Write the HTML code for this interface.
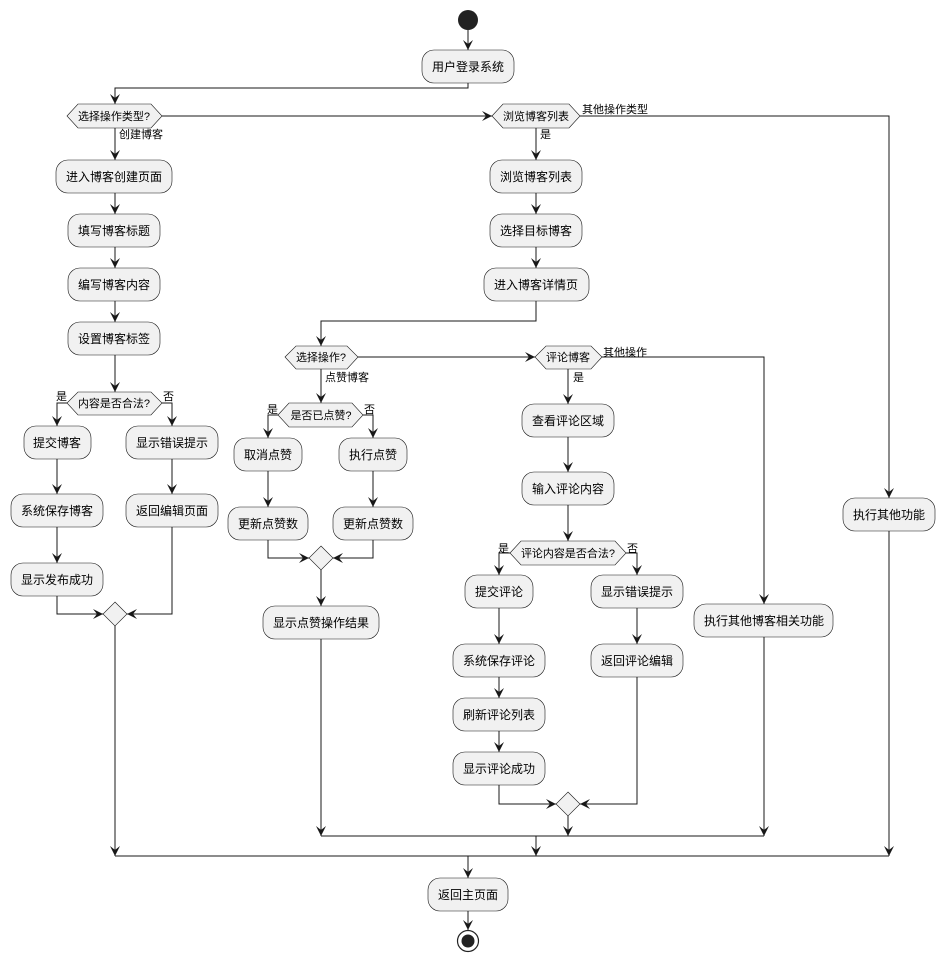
<!DOCTYPE html>
<html><head><meta charset="utf-8"><style>
html,body{margin:0;padding:0;background:#fff;}
svg text{font-family:"Liberation Sans","Noto Sans CJK SC",sans-serif;fill:#000;}
.b{fill:#F1F1F1;stroke:#181818;stroke-width:0.6;}
.l{stroke:#181818;stroke-width:1;fill:none;}
.a{fill:#181818;}
.t{font-size:12px;text-anchor:middle;}
.d{font-size:11px;text-anchor:middle;}
.s{font-size:11px;}
</style></head><body>
<svg width="945" height="962" viewBox="0 0 945 962" xmlns="http://www.w3.org/2000/svg">
<!-- lines -->
<g class="l">
<polyline points="468,30 468,50"/>
<polyline points="468,83 468,88 115,88 115,104"/>
<polyline points="162,116 492,116"/>
<polyline points="580,116 889,116 889,498"/>
<polyline points="115,128 115,160"/>
<polyline points="115,193 115,214"/>
<polyline points="115,247 115,268"/>
<polyline points="115,301 115,322"/>
<polyline points="115,355 115,392"/>
<polyline points="67,403 57,403 57,426"/>
<polyline points="162,403 172,403 172,426"/>
<polyline points="57,459 57,494"/>
<polyline points="57,527 57,563"/>
<polyline points="172,459 172,494"/>
<polyline points="57,596 57,614 103,614"/>
<polyline points="172,527 172,614 127,614"/>
<polyline points="115,626 115,856"/>
<polyline points="536,128 536,160"/>
<polyline points="536,193 536,214"/>
<polyline points="536,247 536,268"/>
<polyline points="536,301 536,321 321,321 321,346"/>
<polyline points="358,357 535,357"/>
<polyline points="602,357 764,357 764,604"/>
<polyline points="764,637 764,836"/>
<polyline points="321,369 321,403"/>
<polyline points="278,415 268,415 268,438"/>
<polyline points="363,415 373,415 373,438"/>
<polyline points="268,471 268,507"/>
<polyline points="373,471 373,507"/>
<polyline points="268,540 268,558 309,558"/>
<polyline points="373,540 373,558 333,558"/>
<polyline points="321,570 321,606"/>
<polyline points="321,639 321,836"/>
<polyline points="568,369 568,404"/>
<polyline points="568,437 568,472"/>
<polyline points="568,505 568,541"/>
<polyline points="510,553 499,553 499,575"/>
<polyline points="626,553 637,553 637,575"/>
<polyline points="499,608 499,644"/>
<polyline points="499,677 499,698"/>
<polyline points="499,731 499,752"/>
<polyline points="637,608 637,644"/>
<polyline points="499,785 499,804 556,804"/>
<polyline points="637,677 637,804 580,804"/>
<polyline points="568,816 568,836"/>
<polyline points="321,836 764,836"/>
<polyline points="536,836 536,856"/>
<polyline points="889,531 889,856"/>
<polyline points="115,856 889,856"/>
<polyline points="468,856 468,878"/>
<polyline points="468,911 468,930"/>
</g>
<!-- arrows down -->
<g class="a">
<polygon points="468,50 463,40 468,44 473,40"/>
<polygon points="115,104 110,94 115,98 120,94"/>
<polygon points="115,160 110,150 115,154 120,150"/>
<polygon points="115,214 110,204 115,208 120,204"/>
<polygon points="115,268 110,258 115,262 120,258"/>
<polygon points="115,322 110,312 115,316 120,312"/>
<polygon points="115,392 110,382 115,386 120,382"/>
<polygon points="57,426 52,416 57,420 62,416"/>
<polygon points="172,426 167,416 172,420 177,416"/>
<polygon points="57,494 52,484 57,488 62,484"/>
<polygon points="57,563 52,553 57,557 62,553"/>
<polygon points="172,494 167,484 172,488 177,484"/>
<polygon points="536,160 531,150 536,154 541,150"/>
<polygon points="536,214 531,204 536,208 541,204"/>
<polygon points="536,268 531,258 536,262 541,258"/>
<polygon points="321,346 316,336 321,340 326,336"/>
<polygon points="321,403 316,393 321,397 326,393"/>
<polygon points="268,438 263,428 268,432 273,428"/>
<polygon points="373,438 368,428 373,432 378,428"/>
<polygon points="268,507 263,497 268,501 273,497"/>
<polygon points="373,507 368,497 373,501 378,497"/>
<polygon points="321,606 316,596 321,600 326,596"/>
<polygon points="321,836 316,826 321,830 326,826"/>
<polygon points="568,404 563,394 568,398 573,394"/>
<polygon points="568,472 563,462 568,466 573,462"/>
<polygon points="568,541 563,531 568,535 573,531"/>
<polygon points="499,575 494,565 499,569 504,565"/>
<polygon points="637,575 632,565 637,569 642,565"/>
<polygon points="499,644 494,634 499,638 504,634"/>
<polygon points="499,698 494,688 499,692 504,688"/>
<polygon points="499,752 494,742 499,746 504,742"/>
<polygon points="637,644 632,634 637,638 642,634"/>
<polygon points="568,836 563,826 568,830 573,826"/>
<polygon points="764,604 759,594 764,598 769,594"/>
<polygon points="764,836 759,826 764,830 769,826"/>
<polygon points="889,498 884,488 889,492 894,488"/>
<polygon points="889,856 884,846 889,850 894,846"/>
<polygon points="115,856 110,846 115,850 120,846"/>
<polygon points="536,856 531,846 536,850 541,846"/>
<polygon points="468,878 463,868 468,872 473,868"/>
<polygon points="468,930 463,920 468,924 473,920"/>
<!-- right / left -->
<polygon points="492,116 482,111 486,116 482,121"/>
<polygon points="535,357 525,352 529,357 525,362"/>
<polygon points="103,614 93,609 97,614 93,619"/>
<polygon points="127,614 137,609 133,614 137,619"/>
<polygon points="309,558 299,553 303,558 299,563"/>
<polygon points="333,558 343,553 339,558 343,563"/>
<polygon points="556,804 546,799 550,804 546,809"/>
<polygon points="580,804 590,799 586,804 590,809"/>
</g>
<!-- start/end -->
<circle cx="468" cy="20" r="10" fill="#222"/>
<circle cx="468" cy="941" r="10.5" fill="none" stroke="#222" stroke-width="1.2"/>
<circle cx="468" cy="941" r="6.5" fill="#222"/>
<!-- boxes -->
<g class="b">
<rect x="422" y="50" width="92" height="33" rx="12"/>
<rect x="56" y="160" width="116" height="33" rx="12"/>
<rect x="68" y="214" width="92" height="33" rx="12"/>
<rect x="68" y="268" width="92" height="33" rx="12"/>
<rect x="68" y="322" width="92" height="33" rx="12"/>
<rect x="24" y="426" width="67" height="33" rx="12"/>
<rect x="126" y="426" width="92" height="33" rx="12"/>
<rect x="11" y="494" width="92" height="33" rx="12"/>
<rect x="11" y="563" width="92" height="33" rx="12"/>
<rect x="126" y="494" width="92" height="33" rx="12"/>
<rect x="490" y="160" width="92" height="33" rx="12"/>
<rect x="490" y="214" width="92" height="33" rx="12"/>
<rect x="484" y="268" width="105" height="33" rx="12"/>
<rect x="234" y="438" width="68" height="33" rx="12"/>
<rect x="339" y="438" width="68" height="33" rx="12"/>
<rect x="228" y="507" width="80" height="33" rx="12"/>
<rect x="333" y="507" width="80" height="33" rx="12"/>
<rect x="263" y="606" width="116" height="33" rx="12"/>
<rect x="522" y="404" width="92" height="33" rx="12"/>
<rect x="522" y="472" width="92" height="33" rx="12"/>
<rect x="465" y="575" width="68" height="33" rx="12"/>
<rect x="591" y="575" width="92" height="33" rx="12"/>
<rect x="453" y="644" width="92" height="33" rx="12"/>
<rect x="453" y="698" width="92" height="33" rx="12"/>
<rect x="453" y="752" width="92" height="33" rx="12"/>
<rect x="591" y="644" width="92" height="33" rx="12"/>
<rect x="694" y="604" width="139" height="33" rx="12"/>
<rect x="843" y="498" width="92" height="33" rx="12"/>
<rect x="428" y="878" width="80" height="33" rx="12"/>
<!-- hexagons -->
<polygon points="67,116 78,104 151,104 162,116 151,128 78,128"/>
<polygon points="492,116 503,104 569,104 580,116 569,128 503,128"/>
<polygon points="67,403 78,392 151,392 162,403 151,415 78,415"/>
<polygon points="285,357 296,346 347,346 358,357 347,369 296,369"/>
<polygon points="535,357 546,346 591,346 602,357 591,369 546,369"/>
<polygon points="278,415 289,403 352,403 363,415 352,427 289,427"/>
<polygon points="510,553 521,541 615,541 626,553 615,565 521,565"/>
<!-- merges -->
<polygon points="115,602 127,614 115,626 103,614"/>
<polygon points="321,546 333,558 321,570 309,558"/>
<polygon points="568,792 580,804 568,816 556,804"/>
</g>
<!-- text -->
<g class="t">
<text x="468" y="71">用户登录系统</text>
<text x="114" y="181">进入博客创建页面</text>
<text x="114" y="235">填写博客标题</text>
<text x="114" y="289">编写博客内容</text>
<text x="114" y="343">设置博客标签</text>
<text x="57" y="447">提交博客</text>
<text x="172" y="447">显示错误提示</text>
<text x="57" y="515">系统保存博客</text>
<text x="57" y="584">显示发布成功</text>
<text x="172" y="515">返回编辑页面</text>
<text x="536" y="181">浏览博客列表</text>
<text x="536" y="235">选择目标博客</text>
<text x="536" y="289">进入博客详情页</text>
<text x="268" y="459">取消点赞</text>
<text x="373" y="459">执行点赞</text>
<text x="268" y="528">更新点赞数</text>
<text x="373" y="528">更新点赞数</text>
<text x="321" y="627">显示点赞操作结果</text>
<text x="568" y="425">查看评论区域</text>
<text x="568" y="493">输入评论内容</text>
<text x="499" y="596">提交评论</text>
<text x="637" y="596">显示错误提示</text>
<text x="499" y="665">系统保存评论</text>
<text x="499" y="719">刷新评论列表</text>
<text x="499" y="773">显示评论成功</text>
<text x="637" y="665">返回评论编辑</text>
<text x="764" y="625">执行其他博客相关功能</text>
<text x="889" y="519">执行其他功能</text>
<text x="468" y="899">返回主页面</text>
</g>
<g class="d">
<text x="114" y="120">选择操作类型?</text>
<text x="536" y="120">浏览博客列表</text>
<text x="114" y="407">内容是否合法?</text>
<text x="321" y="361">选择操作?</text>
<text x="568" y="361">评论博客</text>
<text x="321" y="419">是否已点赞?</text>
<text x="568" y="557">评论内容是否合法?</text>
</g>
<g class="s">
<text x="119" y="138">创建博客</text>
<text x="582" y="113">其他操作类型</text>
<text x="540" y="138">是</text>
<text x="56" y="400">是</text>
<text x="163" y="400">否</text>
<text x="325" y="381">点赞博客</text>
<text x="603" y="356">其他操作</text>
<text x="573" y="381">是</text>
<text x="267" y="413">是</text>
<text x="364" y="413">否</text>
<text x="498" y="552">是</text>
<text x="627" y="552">否</text>
</g>
</svg>
</body></html>
